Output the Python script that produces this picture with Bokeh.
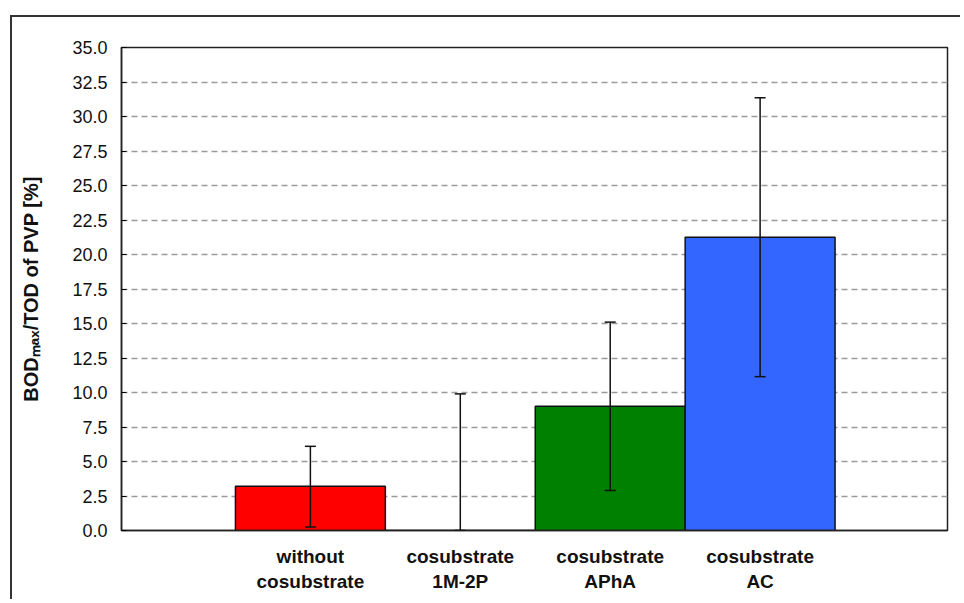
from bokeh.plotting import figure
from bokeh.models import (ColumnDataSource, Range1d, FixedTicker, PrintfTickFormatter,
                          Whisker, TeeHead)
from bokeh.embed import file_html
from bokeh.resources import INLINE

# ---- data ----
categories = ["without\ncosubstrate", "cosubstrate\n1M-2P", "cosubstrate\nAPhA", "cosubstrate\nAC"]
values = [3.2, 0.0, 9.0, 21.25]
err_lower = [0.25, 0.0, 2.9, 11.15]
err_upper = [6.1, 9.9, 15.1, 31.35]
colors = ["#ff0000", "#ffffff", "#008000", "#3366ff"]
y_ticks = [0, 2.5, 5, 7.5, 10, 12.5, 15, 17.5, 20, 22.5, 25, 27.5, 30, 32.5, 35]

xs = list(range(len(categories)))
src = ColumnDataSource(dict(x=xs, top=values, lower=err_lower, upper=err_upper, color=colors))

W, H = 950, 584
p = figure(width=W, height=H, output_backend="svg", toolbar_location=None,
           x_range=Range1d(-1.26, 4.25), y_range=Range1d(0, 35),
           min_border_left=109, min_border_top=30, min_border_right=15, min_border_bottom=71,
           margin=(15, 0, 0, 10),
           styles={"border-top": "2px solid #333333", "border-left": "2px solid #333333"})
p.border_fill_color = "white"
p.background_fill_color = "white"
p.outline_line_color = "#222222"
p.outline_line_width = 1.5

p.vbar(x="x", top="top", width=1.0, bottom=0, fill_color="color", line_color="#111111",
       line_width=1.5, source=src)

wh = Whisker(base="x", lower="lower", upper="upper", source=src, dimension="height",
             line_color="#111111", line_width=1.5, level="overlay",
             upper_head=TeeHead(size=11, line_color="#111111", line_width=1.5),
             lower_head=TeeHead(size=11, line_color="#111111", line_width=1.5))
p.add_layout(wh)

# axes
p.yaxis.ticker = FixedTicker(ticks=y_ticks)
p.yaxis.formatter = PrintfTickFormatter(format="%.1f")
p.yaxis.major_label_text_font = "Liberation Sans"
p.yaxis.major_label_text_font_size = "18px"
p.yaxis.major_label_text_color = "#111111"
p.yaxis.major_tick_in = 5
p.yaxis.major_tick_out = 0
p.yaxis.minor_tick_line_color = None
p.yaxis.major_label_standoff = 14
p.yaxis.axis_line_color = "#222222"
p.yaxis.axis_line_width = 1.5
p.yaxis.axis_label = "BODₘₐₓ/TOD of PVP [%]"
p.yaxis.axis_label_text_font = "Liberation Sans"
p.yaxis.axis_label_text_font_style = "bold"
p.yaxis.axis_label_text_font_size = "20px"
p.yaxis.axis_label_text_color = "#111111"
p.yaxis.axis_label_standoff = 27

p.xaxis.ticker = FixedTicker(ticks=xs)
p.xaxis.major_label_overrides = {i: c for i, c in zip(xs, categories)}
p.xaxis.major_label_text_font = "Liberation Sans"
p.xaxis.major_label_text_font_style = "bold"
p.xaxis.major_label_text_font_size = "19px"
p.xaxis.major_label_text_color = "#111111"
p.xaxis.major_tick_line_color = None
p.xaxis.minor_tick_line_color = None
p.xaxis.major_label_standoff = 9
p.xaxis.axis_line_color = "#222222"
p.xaxis.axis_line_width = 1.5

p.xgrid.grid_line_color = None
p.ygrid.ticker = FixedTicker(ticks=y_ticks[1:-1])
p.ygrid.grid_line_color = "#9a9a9a"
p.ygrid.grid_line_width = 1.5
p.ygrid.grid_line_dash = "6 4"

open("out.html", "w").write(file_html(p, INLINE))
